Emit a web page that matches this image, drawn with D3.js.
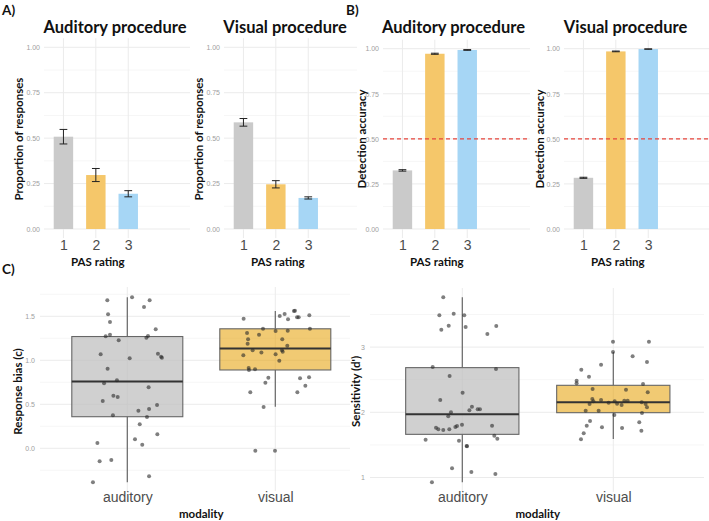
<!DOCTYPE html>
<html><head><meta charset="utf-8">
<script src="https://cdn.jsdelivr.net/npm/d3@7"></script>
<style>body{margin:0;background:#fff}svg{display:block}</style>
</head><body>
<svg id="c" width="709" height="521"></svg>
<script>
// ---------- data ----------
const pasRatings = ["1", "2", "3"];
const propTicks = [0, 0.25, 0.5, 0.75, 1];
const propAud = [0.508, 0.297, 0.194];
const propAudErr = [0.040, 0.036, 0.017];
const propVis = [0.587, 0.246, 0.171];
const propVisErr = [0.021, 0.020, 0.006];
const accAud = [0.325, 0.972, 0.993];
const accAudErr = [0.004, 0.003, 0.002];
const accVis = [0.284, 0.985, 0.998];
const accVisErr = [0.003, 0.002, 0.001];
const chanceLevel = 0.5;

const modalities = ["auditory", "visual"];
const biasTicks = [0, 0.5, 1.0, 1.5];
const sensTicks = [1, 2, 3];
// box stats: [lower whisker, q1, median, q3, upper whisker]
const biasBoxAud = [-0.386, 0.359, 0.759, 1.270, 1.716];
const biasBoxVis = [0.473, 0.890, 1.134, 1.358, 1.560];
const sensBoxAud = [0.926, 1.662, 1.972, 2.685, 3.763];
const sensBoxVis = [1.590, 1.994, 2.156, 2.414, 2.925];

const biasAudVal = [1.681,1.716,1.681,1.522,1.606,1.435,1.352,1.272,1.291,1.227,1.257,1.276,1.068,1.075,1.041,1.030,1.022,0.905,0.772,0.738,0.693,0.538,0.598,0.583,0.492,0.447,0.428,0.375,0.356,0.272,0.159,0.102,0.041,0.060,-0.148,-0.133,-0.387,-0.318];
const biasAudJit = [-0.135,0.032,0.151,-0.130,0.113,-0.117,0.192,-0.146,-0.117,-0.058,0.129,0.140,-0.180,0.207,0.228,0.234,0.016,-0.133,-0.070,-0.157,0.144,-0.166,-0.094,-0.065,0.201,0.147,0.075,-0.097,0.133,0.084,0.203,0.052,0.101,-0.202,-0.187,-0.108,-0.232,0.147];
const biasVisVal = [1.473,1.503,1.526,1.466,1.560,1.564,1.488,1.488,1.511,1.359,1.333,1.337,1.359,1.310,1.291,1.238,1.238,1.189,1.166,1.113,1.090,1.113,1.098,1.056,1.068,0.996,0.913,0.890,0.897,0.803,0.746,0.795,0.806,0.712,0.636,0.636,0.469,-0.027,-0.027];
const biasVisJit = [-0.214,0.030,0.063,0.086,0.126,0.133,0.147,0.158,0.230,-0.083,0.002,0.084,0.234,-0.191,-0.110,-0.184,0.047,-0.187,0.081,-0.153,-0.094,0.045,0.050,-0.216,0.002,0.027,-0.180,-0.178,-0.137,-0.047,-0.067,0.167,0.228,0.203,-0.169,0.149,-0.079,-0.135,-0.002];
const sensAudVal = [3.763,3.487,3.513,3.487,3.329,3.267,3.308,3.324,3.201,2.695,2.664,2.557,2.301,2.189,2.086,2.030,2.046,2.046,2.000,1.938,1.764,1.739,1.729,1.739,1.775,1.790,1.810,1.795,1.642,1.596,1.580,1.565,1.483,1.478,1.141,1.084,1.054,0.926];
const sensAudJit = [-0.126,-0.152,-0.057,0.013,-0.090,-0.139,0.022,0.225,0.166,-0.196,0.223,-0.084,0.002,-0.146,0.064,0.047,0.102,0.117,-0.075,-0.093,-0.174,-0.159,-0.126,-0.086,-0.046,-0.035,-0.002,0.197,0.212,0.232,-0.243,-0.022,0.029,0.031,-0.068,0.060,0.219,-0.201];
const sensVisVal = [3.083,3.083,2.925,2.858,2.771,2.731,2.654,2.546,2.485,2.444,2.434,2.357,2.347,2.306,2.204,2.168,2.189,2.148,2.168,2.132,2.112,2.179,2.179,2.153,2.127,2.076,2.127,2.025,2.025,1.989,1.959,1.867,1.795,1.770,1.759,1.847,1.718,1.677,1.585];
const sensVisJit = [-0.002,0.236,-0.002,0.128,0.223,-0.081,-0.212,-0.161,-0.243,-0.243,0.197,-0.137,0.084,0.228,-0.139,-0.132,-0.081,-0.031,0.009,0.025,0.055,0.073,0.095,0.188,0.214,0.223,-0.157,-0.183,-0.097,0.190,0.007,-0.154,-0.176,-0.075,0.058,0.172,0.186,-0.196,-0.214];

// ---------- style ----------
const barColors = ["#cacaca", "#f5c76a", "#a6d6f5"];
const boxFill = ["#bebebe", "#e69f00"];
const boxFillOpacity = [0.72, 0.55];
const FT = "Lato, 'Open Sans', sans-serif";
const FA = "'Liberation Sans', Arial, sans-serif";
const GRID = "#ebebeb", GRIDMINOR = "#f4f4f4";

const svg = d3.select("#c");

function styleAxis(g, size, color) {
  g.select(".domain").remove();
  g.selectAll(".tick line").remove();
  g.selectAll("text").attr("font-family", FA).attr("font-size", size).attr("fill", color);
}

function label(txt, x, y, size, rot, anchor) {
  const t = svg.append("text").text(txt)
    .attr("font-family", FT).attr("font-weight", "bold").attr("font-size", size)
    .attr("fill", "#111").attr("text-anchor", anchor || "middle");
  if (rot) t.attr("transform", `translate(${x},${y}) rotate(-90)`);
  else t.attr("x", x).attr("y", y);
  return t;
}

function barPanel(cfg) {
  const step = 32.4;
  const x = d3.scaleLinear().domain([0.4, 3.6]).range([cfg.left, cfg.left + 3.2 * step]);
  const y = d3.scaleLinear().domain([0, 1]).range([229, cfg.top1]);
  const g = svg.append("g");
  const yT = y(1.05), yB = y(-0.05);
  const minor = [0.125, 0.375, 0.625, 0.875];
  g.selectAll(".mn").data(minor).join("line")
    .attr("x1", cfg.left).attr("x2", cfg.right).attr("y1", d => y(d)).attr("y2", d => y(d))
    .attr("stroke", GRIDMINOR).attr("stroke-width", 0.8);
  g.selectAll(".mj").data(propTicks).join("line")
    .attr("x1", cfg.left).attr("x2", cfg.right).attr("y1", d => y(d)).attr("y2", d => y(d))
    .attr("stroke", GRID).attr("stroke-width", 1);
  g.selectAll(".vx").data([1, 2, 3]).join("line")
    .attr("x1", d => x(d)).attr("x2", d => x(d)).attr("y1", yT).attr("y2", yB)
    .attr("stroke", GRID).attr("stroke-width", 1);
  const bw = 0.6;
  g.selectAll(".bar").data(cfg.vals).join("rect")
    .attr("x", (d, i) => x(i + 1 - bw / 2)).attr("width", x(1 + bw / 2) - x(1 - bw / 2))
    .attr("y", d => y(d)).attr("height", d => y(0) - y(d))
    .attr("fill", (d, i) => barColors[i]);
  const cw = 0.12;
  cfg.vals.forEach((v, i) => {
    const e = cfg.errs[i];
    const eg = g.append("g").attr("stroke", "#222").attr("stroke-width", 1);
    eg.append("line").attr("x1", x(i + 1)).attr("x2", x(i + 1)).attr("y1", y(v - e)).attr("y2", y(v + e));
    eg.append("line").attr("x1", x(i + 1 - cw)).attr("x2", x(i + 1 + cw)).attr("y1", y(v - e)).attr("y2", y(v - e));
    eg.append("line").attr("x1", x(i + 1 - cw)).attr("x2", x(i + 1 + cw)).attr("y1", y(v + e)).attr("y2", y(v + e));
  });
  if (cfg.chance) {
    g.append("line").attr("x1", cfg.left).attr("x2", cfg.right)
      .attr("y1", y(chanceLevel)).attr("y2", y(chanceLevel))
      .attr("stroke", "#e8453c").attr("stroke-width", 1.4).attr("stroke-dasharray", "4,3");
  }
  const ay = svg.append("g").attr("transform", `translate(${cfg.left - 1},0)`)
    .call(d3.axisLeft(y).tickValues(propTicks).tickFormat(d3.format(".2f")).tickSize(0).tickPadding(3));
  styleAxis(ay, 7, "#a0a0a0");
  const ax = svg.append("g").attr("transform", `translate(0,240)`)
    .call(d3.axisBottom(x).tickValues([1, 2, 3]).tickFormat(d => pasRatings[d - 1]).tickSize(0).tickPadding(0));
  styleAxis(ax, 14, "#4d4d4d");
  label(cfg.title, cfg.titleX, 33, 16.5);
  label(cfg.ytitle, cfg.ytx, 139, 11.5, true);
  label("PAS rating", x(2) + 2, 265.5, 11.5);
}

barPanel({left: 44, right: 190, top1: 47.3, vals: propAud, errs: propAudErr, title: "Auditory procedure", titleX: 115, ytitle: "Proportion of responses", ytx: 23});
barPanel({left: 224, right: 357, top1: 47.3, vals: propVis, errs: propVisErr, title: "Visual procedure", titleX: 285, ytitle: "Proportion of responses", ytx: 203});
barPanel({left: 383, right: 530, top1: 48.7, vals: accAud, errs: accAudErr, title: "Auditory procedure", titleX: 453.5, ytitle: "Detection accuracy", ytx: 366, chance: true});
barPanel({left: 564, right: 709, top1: 48.7, vals: accVis, errs: accVisErr, title: "Visual procedure", titleX: 625.5, ytitle: "Detection accuracy", ytx: 544, chance: true});

function boxPanel(cfg) {
  const x = d3.scaleLinear().domain([1, 2]).range(cfg.cats);
  const y = d3.scaleLinear().domain(cfg.ydom).range(cfg.yrng);
  const g = svg.append("g");
  g.selectAll(".mn").data(cfg.minor).join("line")
    .attr("x1", cfg.left).attr("x2", cfg.right).attr("y1", d => y(d)).attr("y2", d => y(d))
    .attr("stroke", GRIDMINOR).attr("stroke-width", 0.8);
  g.selectAll(".mj").data(cfg.ticks).join("line")
    .attr("x1", cfg.left).attr("x2", cfg.right).attr("y1", d => y(d)).attr("y2", d => y(d))
    .attr("stroke", GRID).attr("stroke-width", 1);
  g.selectAll(".vx").data([1, 2]).join("line")
    .attr("x1", d => x(d)).attr("x2", d => x(d)).attr("y1", cfg.top).attr("y2", cfg.bottom)
    .attr("stroke", GRID).attr("stroke-width", 1);
  const bw = 0.75;
  cfg.boxes.forEach((b, i) => {
    const c = i + 1;
    const bg = g.append("g");
    bg.append("line").attr("x1", x(c)).attr("x2", x(c)).attr("y1", y(b[3])).attr("y2", y(b[4]))
      .attr("stroke", "#666").attr("stroke-width", 1.2);
    bg.append("line").attr("x1", x(c)).attr("x2", x(c)).attr("y1", y(b[1])).attr("y2", y(b[0]))
      .attr("stroke", "#666").attr("stroke-width", 1.2);
    bg.append("rect").attr("x", x(c - bw / 2)).attr("width", x(c + bw / 2) - x(c - bw / 2))
      .attr("y", y(b[3])).attr("height", y(b[1]) - y(b[3]))
      .attr("fill", boxFill[i]).attr("fill-opacity", boxFillOpacity[i])
      .attr("stroke", "#666").attr("stroke-width", 1.1);
    bg.append("line").attr("x1", x(c - bw / 2)).attr("x2", x(c + bw / 2)).attr("y1", y(b[2])).attr("y2", y(b[2]))
      .attr("stroke", "#333").attr("stroke-width", 2);
  });
  cfg.points.forEach((p, i) => {
    const c = i + 1;
    g.selectAll(null).data(p.vals).join("circle")
      .attr("cx", (d, k) => x(c + p.jit[k])).attr("cy", d => y(d)).attr("r", 2)
      .attr("fill", "#2a2a2a").attr("fill-opacity", 0.6);
  });
  const ay = svg.append("g").attr("transform", `translate(${cfg.left - 2},0)`)
    .call(d3.axisLeft(y).tickValues(cfg.ticks).tickFormat(cfg.fmt).tickSize(0).tickPadding(3));
  styleAxis(ay, 7, "#a0a0a0");
  const ax = svg.append("g").attr("transform", `translate(0,492)`)
    .call(d3.axisBottom(x).tickValues([1, 2]).tickFormat(d => modalities[d - 1]).tickSize(0).tickPadding(0));
  styleAxis(ax, 14, "#4d4d4d");
  label(cfg.ytitle, cfg.ytx, 391.5, 11.5, true);
  label("modality", (x(1) + x(2)) / 2, 518, 11.5);
}

boxPanel({cats: [127.3, 275.3], ydom: [0, 1.5], yrng: [448.3, 316.3], left: 40, right: 350, top: 287, bottom: 491,
  ticks: biasTicks, minor: [-0.25, 0.25, 0.75, 1.25, 1.75], fmt: d3.format(".1f"),
  boxes: [biasBoxAud, biasBoxVis],
  points: [{vals: biasAudVal, jit: biasAudJit}, {vals: biasVisVal, jit: biasVisJit}],
  ytitle: "Response bias (c)", ytx: 22});
boxPanel({cats: [462.3, 613.3], ydom: [1, 3], yrng: [477.5, 347.1], left: 370, right: 704, top: 288, bottom: 492,
  ticks: sensTicks, minor: [1.5, 2.5, 3.5], fmt: d3.format("d"),
  boxes: [sensBoxAud, sensBoxVis],
  points: [{vals: sensAudVal, jit: sensAudJit}, {vals: sensVisVal, jit: sensVisJit}],
  ytitle: "Sensitivity (d')", ytx: 360});

label("A)", 2, 15, 13.5, false, "start");
label("B)", 346, 15, 13.5, false, "start");
label("C)", 2, 274, 13.5, false, "start");
</script>
</body></html>
